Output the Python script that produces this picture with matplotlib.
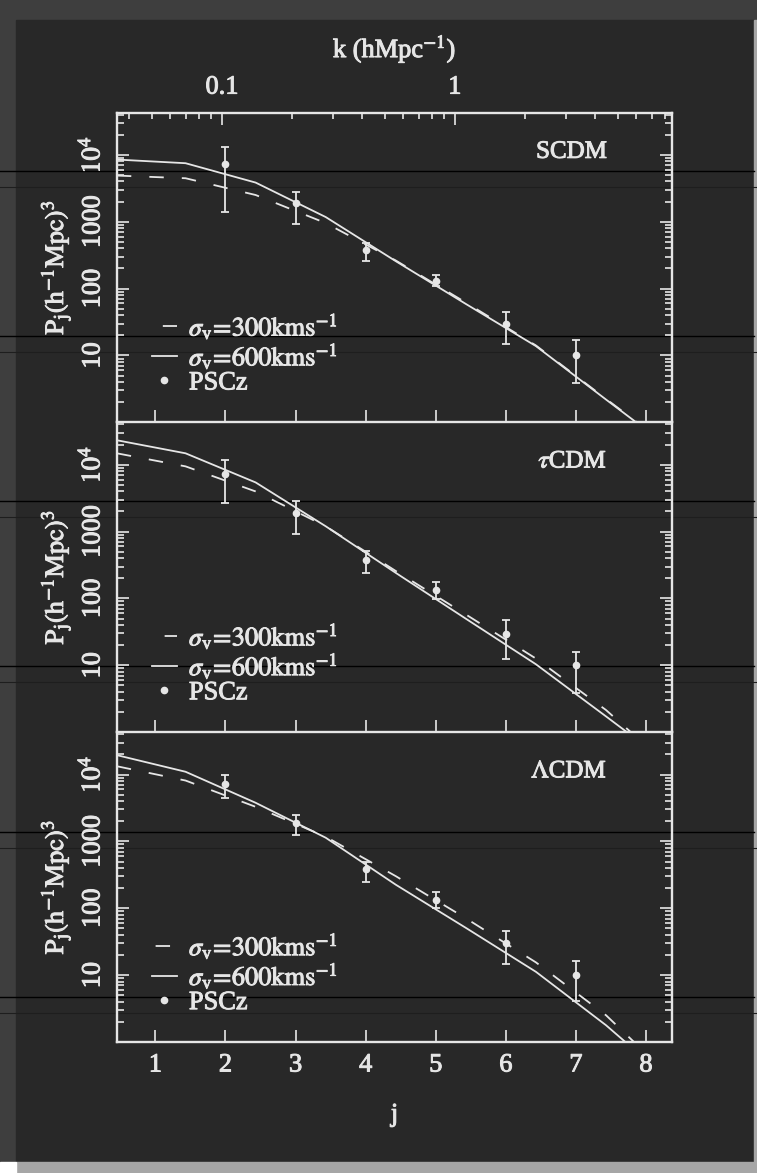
import numpy as np
import matplotlib.pyplot as plt
import matplotlib.patheffects as pe
from matplotlib.patches import Rectangle
from matplotlib.lines import Line2D
from matplotlib.text import Text
from matplotlib.ticker import FixedLocator, FuncFormatter, NullFormatter, LogLocator

plt.rcParams['font.family'] = 'serif'
plt.rcParams['font.serif'] = ['Liberation Serif', 'DejaVu Serif']
plt.rcParams['mathtext.fontset'] = 'stix'

FG = '#e6e6e6'
BG = '#282828'

# model curves are sampled at these j
j_model = [0.45, 1.43, 2.43, 3.43, 4.43, 5.43, 6.43, 7.43, 8.43]

scdm_600 = [8510, 7500, 3850, 1175, 257, 58.9, 13.8, 2.19, 0.355]
scdm_300 = [4900, 4470, 2510, 955, 263, 61.7, 14.1, 2.24, 0.363]
tcdm_600 = [23200, 14800, 5430, 1200, 241, 49.7, 10.35, 1.72, 0.28]
tcdm_300 = [14800, 9440, 3980, 1200, 257, 57.5, 12.6, 2.14, 0.25]
lcdm_600 = [19500, 11000, 3780, 1135, 225, 50.9, 11.2, 1.78, 0.22]
lcdm_300 = [13300, 8130, 3290, 1175, 302, 70.8, 15.5, 2.51, 0.25]

# PSCz measurements
j_data = [2, 3, 4, 5, 6, 7]
pscz = [7300, 1880, 382, 132, 29.8, 10.1]

# error bar ends (lower, upper) in each model panel
scdm_lo = [1393, 923, 262, 108, 14.9, 3.82]
scdm_hi = [13000, 2770, 479, 158, 44.9, 16.9]
tcdm_lo = [2680, 933, 242, 96.7, 12.6, 3.9]
tcdm_hi = [11880, 2900, 508, 175, 47.5, 16.0]
lcdm_lo = [4490, 1245, 250, 102, 14.6, 4.1]
lcdm_hi = [10000, 2470, 490, 177, 46, 16.4]

panels = [
    ('SCDM', scdm_300, scdm_600, scdm_lo, scdm_hi, 12),
    (r'$\tau$CDM', tcdm_300, tcdm_600, tcdm_lo, tcdm_hi, 11),
    (r'$\Lambda$CDM', lcdm_300, lcdm_600, lcdm_lo, lcdm_hi, 16),
]

legend_labels = [r'$\sigma_{\rm v}\!=\!300{\rm kms}^{-1}$',
                 r'$\sigma_{\rm v}\!=\!600{\rm kms}^{-1}$',
                 'PSCz']
y_ticks = [10, 100, 1000, 1e4]
k_ticks = [0.1, 1]

xlim = (0.452, 8.371)
ylim = (1.0, 4.3e4)


def j_to_k(j):
    # top axis: k = 0.1 h/Mpc sits at j = 1.95, one octave per j
    return 0.1 * 2.0 ** (np.asarray(j) - 1.95)


fig = plt.figure(figsize=(7.57, 11.73), dpi=100, facecolor='#3e3e3e')
W, H = 757.0, 1173.0
fig.patches.append(Rectangle((16 / W, 1 - 1162 / H), (754 - 16) / W, (1162 - 20) / H,
                             transform=fig.transFigure, color=BG, zorder=-10))
fig.patches.append(Rectangle((16 / W, 0), 1 - 16 / W, 11 / H,
                             transform=fig.transFigure, color='#a6a6a6', zorder=-10))
fig.patches.append(Rectangle((0, 0), 16 / W, 11 / H,
                             transform=fig.transFigure, color='white', zorder=-10))
fig.patches.append(Rectangle((754 / W, 11 / H), 3 / W, 1 - 31 / H,
                             transform=fig.transFigure, color='#a6a6a6', zorder=-10))
# scan lines across the page
for yp in [170.7, 335.9, 501.1, 666.3, 831.5, 996.7]:
    fig.add_artist(Line2D([0, 754 / W], [1 - yp / H] * 2, transform=fig.transFigure,
                          color='black', lw=1.0, zorder=-1))
    fig.add_artist(Line2D([0, 757 / W], [1 - (yp + 16) / H] * 2, transform=fig.transFigure,
                          color='#1e1e1e', lw=0.8, zorder=-1))

axs = fig.subplots(3, 1, sharex=True, gridspec_kw=dict(hspace=0))
fig.subplots_adjust(left=117 / W, right=672 / W, top=1 - 112.5 / H, bottom=1 - 1042 / H)

yfmt = FuncFormatter(lambda v, p: r'$10^4$' if v >= 1e4 else '%d' % v)

for ax, (name, p300, p600, lo, hi, doff) in zip(axs, panels):
    ax.set_facecolor('none')
    ax.set_yscale('log')
    ax.set_xlim(*xlim)
    ax.set_ylim(*ylim)

    ax.plot(j_model, p300, color=FG, lw=1.3, ls=(0, (8, 10)))
    ax.plot(j_model, p600, color=FG, lw=1.3)
    yerr = [np.array(pscz) - np.array(lo), np.array(hi) - np.array(pscz)]
    ax.errorbar(j_data, pscz, yerr=yerr, fmt='o', ms=4.5, color=FG, ecolor=FG,
                elinewidth=1.3, capsize=3, capthick=1.3)

    ax.text(0.883, 0.873, name, transform=ax.transAxes, ha='right', va='center',
            fontsize=18, color=FG)

    h300 = Line2D([], [], color=FG, lw=1.3, ls=(doff, (8, 10)))
    h600 = Line2D([], [], color=FG, lw=1.3)
    hdot = Line2D([], [], color=FG, ls='none', marker='o', ms=4.5)
    leg = ax.legend([h300, h600, hdot], legend_labels, loc='lower left',
                    bbox_to_anchor=(0.063, 0.09), frameon=False, fontsize=19,
                    handlelength=0.95, handletextpad=0.45, labelspacing=0.0,
                    borderpad=0, borderaxespad=0)
    for t in leg.get_texts():
        t.set_color(FG)

    for s in ax.spines.values():
        s.set_color(FG)
        s.set_linewidth(1.7)
    ax.spines['top'].set_visible(ax is axs[0])

    ax.yaxis.set_major_locator(FixedLocator(y_ticks))
    ax.yaxis.set_minor_locator(LogLocator(base=10, subs=np.arange(2, 10), numticks=20))
    ax.yaxis.set_major_formatter(yfmt)
    ax.yaxis.set_minor_formatter(NullFormatter())
    ax.tick_params(axis='y', which='both', direction='in', left=True, right=True,
                   color=FG, width=1.2, labelcolor=FG, labelsize=19, pad=9)
    ax.tick_params(axis='y', which='major', length=8.6, labelrotation=90)
    ax.tick_params(axis='y', which='minor', length=4.7)
    for t in ax.get_yticklabels():
        t.set_va('center')

    ax.xaxis.set_major_locator(FixedLocator(range(1, 9)))
    ax.tick_params(axis='x', which='major', direction='in', top=False, bottom=True,
                   length=8.6, width=1.2, color=FG, labelcolor=FG, labelsize=19, pad=9)
    ax.set_ylabel(r'$\mathrm{P_j(h^{-1}Mpc)^3}$', color=FG, fontsize=19, labelpad=4)

axs[-1].set_xlabel('j', color=FG, fontsize=19, labelpad=20)

# top axis in k
top = axs[0].twiny()
top.set_xscale('log')
top.set_xlim(*j_to_k(xlim))
top.xaxis.set_major_locator(FixedLocator(k_ticks))
top.xaxis.set_major_formatter(FuncFormatter(lambda v, p: '%g' % v))
top.xaxis.set_minor_locator(LogLocator(base=10, subs=np.arange(2, 10), numticks=20))
top.xaxis.set_minor_formatter(NullFormatter())
top.tick_params(axis='x', which='both', direction='in', top=True, bottom=False,
                color=FG, width=1.2, labelcolor=FG, labelsize=19, pad=10)
top.tick_params(axis='x', which='major', length=8.6)
top.tick_params(axis='x', which='minor', length=4.5)
top.set_xlabel(r'k (hMpc$^{-1}$)', color=FG, fontsize=19, labelpad=14)
for s in top.spines.values():
    s.set_visible(False)

# the original lettering is a little heavier than Liberation Serif
fig.canvas.draw()
for t in fig.findobj(Text):
    t.set_path_effects([pe.withStroke(linewidth=0.7, foreground=FG)])

fig.savefig('out.png', dpi=100, facecolor=fig.get_facecolor())
